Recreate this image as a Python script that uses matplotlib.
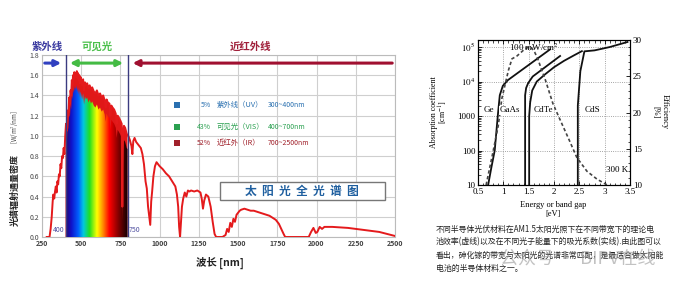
import numpy as np
import matplotlib
matplotlib.use("Agg")
import matplotlib.pyplot as plt
from matplotlib.colors import LinearSegmentedColormap
from matplotlib.patches import Polygon, Rectangle
from matplotlib.ticker import FixedLocator, FixedFormatter, MultipleLocator, LogLocator, NullFormatter

plt.rcParams['font.family'] = ['Noto Sans CJK SC', 'DejaVu Sans']
plt.rcParams['mathtext.fontset'] = 'stix'

# ---- left chart: solar spectrum ----
spec_nm = [280, 298, 305, 312, 318, 322, 328, 333, 338, 343,
           348, 353, 358, 363, 368, 373, 378, 383, 388, 393,
           398, 403, 408, 413, 418, 423, 428, 432, 436, 440,
           444, 448, 452, 456, 460, 464, 468, 472, 476, 480,
           484, 488, 492, 496, 500, 506, 512, 518, 524, 530,
           538, 546, 554, 562, 570, 580, 590, 600, 610, 620,
           630, 640, 650, 656, 662, 670, 680, 686, 692, 700,
           710, 720, 726, 732, 740, 750, 758, 762, 766, 772,
           780, 790, 800, 810, 820, 826, 832, 840, 850, 860,
           870, 880, 890, 900, 910, 918, 926, 934, 940, 946,
           952, 960, 970, 980, 990, 1000, 1020, 1040, 1060, 1080,
           1100, 1110, 1118, 1124, 1130, 1136, 1142, 1150, 1160, 1170,
           1180, 1190, 1200, 1220, 1240, 1260, 1268, 1276, 1284, 1295,
           1310, 1325, 1338, 1350, 1360, 1380, 1400, 1420, 1430, 1440,
           1450, 1460, 1470, 1480, 1490, 1500, 1510, 1520, 1540, 1560,
           1580, 1600, 1620, 1640, 1660, 1680, 1700, 1720, 1740, 1760,
           1775, 1790, 1800, 1820, 1950, 1965, 1980, 1995, 2005, 2020,
           2035, 2050, 2080, 2100, 2150, 2200, 2250, 2300, 2350, 2400,
           2450, 2500]
spec_val = [0.0, 0.0, 0.08, 0.2, 0.35, 0.42, 0.38, 0.45, 0.5, 0.44,
            0.55, 0.52, 0.62, 0.6, 0.72, 0.68, 0.8, 0.78, 0.88, 0.82,
            1.0, 1.12, 1.05, 1.25, 1.2, 1.38, 1.32, 1.45, 1.4, 1.55,
            1.5, 1.6, 1.56, 1.63, 1.58, 1.62, 1.6, 1.64, 1.57, 1.62,
            1.55, 1.6, 1.52, 1.58, 1.55, 1.5, 1.56, 1.45, 1.53, 1.5,
            1.52, 1.47, 1.5, 1.46, 1.48, 1.44, 1.42, 1.45, 1.4, 1.42,
            1.38, 1.4, 1.35, 1.28, 1.36, 1.33, 1.32, 1.2, 1.3, 1.28,
            1.26, 1.22, 1.12, 1.2, 1.18, 1.15, 1.12, 0.3, 1.0, 1.1,
            1.08, 1.02, 1.0, 0.96, 0.9, 0.82, 0.95, 0.98, 0.94, 0.92,
            0.9, 0.88, 0.82, 0.72, 0.55, 0.48, 0.3, 0.2, 0.12, 0.35,
            0.45, 0.6, 0.7, 0.74, 0.72, 0.7, 0.67, 0.63, 0.6, 0.55,
            0.5, 0.42, 0.3, 0.1, 0.0, 0.15, 0.3, 0.38, 0.44, 0.4,
            0.46, 0.45, 0.46, 0.45, 0.46, 0.44, 0.38, 0.28, 0.36, 0.42,
            0.4, 0.3, 0.15, 0.03, 0.0, 0.0, 0.0, 0.02, 0.08, 0.05,
            0.14, 0.1, 0.18, 0.15, 0.22, 0.24, 0.26, 0.27, 0.28, 0.27,
            0.26, 0.26, 0.25, 0.24, 0.23, 0.22, 0.21, 0.19, 0.17, 0.13,
            0.08, 0.03, 0.0, 0.0, 0.0, 0.05, 0.09, 0.04, 0.05, 0.1,
            0.08, 0.1, 0.1, 0.1, 0.095, 0.09, 0.08, 0.07, 0.06, 0.05,
            0.03, 0.01]
visible_nm = [400, 795]
band_names = ['紫外线', '可见光', '近红外线']
band_colors = ['#3a3aa0', '#4cc04c', '#a0203a']
share_pct = ['5%', '43%', '52%']
share_name = ['紫外线（UV）', '可见光（VIS）', '近红外（IR）']
share_range = ['300~400nm', '400~700nm', '700~2500nm']
share_colors = ['#2a70b0', '#2aa050', '#a0202a']

# ---- right chart: absorption / efficiency ----
ge_E = [0.70, 0.76, 0.83, 0.89, 0.93, 0.99, 1.09, 1.92]
ge_a = [10, 30, 100, 1000, 4000, 7500, 1.1e4, 8.5e4]
gaas_E = [1.43, 1.43, 1.45, 1.49, 1.58, 2.12]
gaas_a = [10, 4000, 6500, 9000, 1.4e4, 5.5e4]
cdte_E = [1.51, 1.51, 1.53, 1.57, 1.66, 1.82, 2.0, 2.2, 2.4, 2.55]
cdte_a = [10, 1000, 2500, 5500, 1e4, 1.6e4, 2.6e4, 4e4, 5.8e4, 7.6e4]
cds_E = [2.47, 2.47, 2.52, 2.6, 2.8, 3.1, 3.45]
cds_a = [10, 2000, 2e4, 7.5e4, 8e4, 1e5, 1.4e5]
eff_E = [0.66, 0.72, 0.8, 0.9, 0.97, 1.03, 1.1, 1.17, 1.27, 1.35, 1.43, 1.5,
         1.56, 1.62, 1.68, 1.75, 1.82, 1.98, 2.12, 2.3, 2.45, 2.65, 2.85, 3.05]
eff_v = [10, 12, 14.7, 18.2, 21.9, 23.7, 25.8, 27.4, 27.8, 28.3, 28.8, 29,
         28.9, 28.3, 27.4, 26, 24.7, 21.2, 19, 16.2, 13.8, 11.9, 10.8, 10]
caption = ['不同半导体光伏材料在AM1.5太阳光照下在不同带宽下的理论电',
           '池效率(虚线)以及在不同光子能量下的吸光系数(实线).由此图可以',
           '看出，砷化镓的带宽与太阳光的光谱非常匹配，是最适合做太阳能',
           '电池的半导体材料之一。']

W, H = 691, 289
def fx(px): return px / W
def fy(py): return 1 - py / H

fig = plt.figure(figsize=(6.91, 2.89), dpi=100)

ax1 = fig.add_axes([fx(42), fy(237), (395 - 42) / W, (237 - 55) / H])
nm = np.array(spec_nm, float)
val = np.array(spec_val, float)

# visible band: red under-layer + rainbow
lo, hi = visible_nm
mask = (nm > lo) & (nm < hi)
xs = np.concatenate([[lo], nm[mask], [hi]])
ys = np.interp(xs, nm, val)
red_poly = Polygon(np.column_stack([np.r_[xs, hi, lo], np.r_[ys, 0, 0]]),
                   closed=True, fc='#e01818', ec='none', zorder=2)
ax1.add_patch(red_poly)
rb = LinearSegmentedColormap.from_list('rb', [
    (0, '#2a0a70'), (0.08, '#1010c8'), (0.2, '#0060ff'), (0.28, '#00c8e0'),
    (0.38, '#20e020'), (0.5, '#ffff00'), (0.6, '#ff8800'), (0.7, '#ff0000'),
    (0.85, '#800000'), (1, '#100000')])
im = ax1.imshow(np.linspace(0, 1, 256).reshape(1, -1), extent=[lo, hi, 0, 1.8],
                aspect='auto', cmap=rb, zorder=3)
rb_top = np.clip(ys - 0.14, 0, None)
clip = Polygon(np.column_stack([np.r_[xs, hi, lo], np.r_[rb_top, 0, 0]]),
               closed=True, transform=ax1.transData)
im.set_clip_path(clip)

ax1.plot(nm, val, color='#e41a1c', lw=1.4, zorder=4)
for v in visible_nm:
    ax1.axvline(v, color='#3b3b80', lw=1.0, zorder=5)

ax1.set_xlim(250, 2500)
ax1.set_ylim(0, 1.8)
ax1.set_xticks(np.arange(250, 2501, 250))
ax1.set_yticks(np.arange(0, 1.81, 0.2))
ax1.set_yticklabels([f'{t:.1f}' for t in np.arange(0, 1.81, 0.2)])
ax1.tick_params(length=0, labelsize=5, colors='#444', pad=2)
for lab in ax1.get_xticklabels():
    lab.set_fontweight('bold')
ax1.grid(color='#cfcfcf', lw=0.8)
ax1.set_axisbelow(True)
for s in ax1.spines.values():
    s.set_color('#bbbbbb')
    s.set_linewidth(0.8)

ax1.text(lo - 8, 0.03, '400', fontsize=5, color='#5050a0', ha='right', va='bottom', zorder=6)
ax1.text(hi + 8, 0.03, '750', fontsize=5, color='#5050a0', ha='left', va='bottom', zorder=6)

# region arrows
ay = 1.72
ax1.annotate('', xy=(390, ay), xytext=(250, ay),
             arrowprops=dict(arrowstyle='-|>', color='#3040c0', lw=2.2, mutation_scale=9))
ax1.annotate('', xy=(785, ay), xytext=(410, ay),
             arrowprops=dict(arrowstyle='<|-|>', color='#44bb44', lw=2.2, mutation_scale=9))
ax1.annotate('', xy=(810, ay), xytext=(2500, ay),
             arrowprops=dict(arrowstyle='-|>', color='#a01030', lw=2.2, mutation_scale=9))
for name, c, px in zip(band_names, band_colors, [47, 97, 251]):
    fig.text(fx(px), fy(47), name, color=c, fontsize=7.5, fontweight='bold',
             ha='center', va='center')

# percentage legend
for i, py in enumerate([105, 127, 143]):
    fig.add_artist(Rectangle((fx(174), fy(py + 3)), 6 / W, 6 / H,
                             transform=fig.transFigure, fc=share_colors[i], ec='none'))
    fig.text(fx(211), fy(py), share_pct[i], color=share_colors[i], fontsize=5,
             ha='right', va='center')
    fig.text(fx(217), fy(py), share_name[i], color=share_colors[i], fontsize=5.3,
             ha='left', va='center')
    fig.text(fx(268), fy(py), share_range[i], color=share_colors[i], fontsize=5,
             ha='left', va='center')

fig.add_artist(Rectangle((fx(220), fy(200)), (385 - 220) / W, 18 / H,
                         transform=fig.transFigure, fc='white', ec='#777777', lw=1.0))
fig.text(fx(302), fy(191), '太  阳  光  全  光  谱  图', color='#1f5f9f', fontsize=8.5,
         fontweight='bold', ha='center', va='center')

fig.text(fx(220), fy(263), '波长 [nm]', fontsize=7.5, fontweight='bold', color='#222',
         ha='center', va='center')
fig.text(fx(15), fy(190), '光谱辐射通量密度', fontsize=6.5, fontweight='bold', color='#222',
         rotation=90, ha='center', va='center')
fig.text(fx(14), fy(127), '[W/m$^2$/nm]', fontsize=4.5, color='#444',
         rotation=90, ha='center', va='center')

# ---- right chart ----
serif = 'Liberation Serif'
ax2 = fig.add_axes([fx(478), fy(185), (630 - 478) / W, (185 - 40) / H])
ax2.set_yscale('log')
for E, a in [(ge_E, ge_a), (gaas_E, gaas_a), (cdte_E, cdte_a), (cds_E, cds_a)]:
    ax2.plot(E, a, color='#111', lw=1.3)
ax2.set_xlim(0.5, 3.5)
ax2.set_ylim(10, 1.6e5)
ax2.yaxis.set_major_locator(FixedLocator([10, 100, 1000, 1e4, 1e5]))
ax2.yaxis.set_major_formatter(FixedFormatter(['10', '100', '1000', '$10^4$', '$10^5$']))
ax2.yaxis.set_minor_locator(LogLocator(base=10, subs=np.arange(2, 10)))
ax2.yaxis.set_minor_formatter(NullFormatter())
ax2.xaxis.set_major_locator(MultipleLocator(0.5))
ax2.xaxis.set_minor_locator(MultipleLocator(0.1))
ax2.xaxis.set_major_formatter(plt.FuncFormatter(lambda v, p: f'{v:g}'))
ax2.tick_params(which='both', direction='in', top=True, labelsize=6.5, pad=2)
ax2.tick_params(which='major', length=3, width=0.6)
ax2.tick_params(which='minor', length=1.8, width=0.5)
for lab in ax2.get_xticklabels() + ax2.get_yticklabels():
    lab.set_family(serif)
ax2.grid(True, which='major', ls=':', color='#888', lw=0.6)
for s in ax2.spines.values():
    s.set_linewidth(0.8)

ax2e = ax2.twinx()
ax2e.plot(eff_E, eff_v, color='#444', lw=1.2, ls=(0, (2, 1.5)))
ax2e.set_ylim(10, 30)
ax2e.yaxis.set_major_locator(MultipleLocator(5))
ax2e.yaxis.set_minor_locator(MultipleLocator(1))
ax2e.tick_params(which='both', direction='in', labelsize=6.5, pad=2)
ax2e.tick_params(which='major', length=3, width=0.6)
ax2e.tick_params(which='minor', length=1.8, width=0.5)
for lab in ax2e.get_yticklabels():
    lab.set_family(serif)

ax2e.text(1.6, 29.0, '100 mW/cm$^2$', family=serif, fontsize=6.5, ha='center', va='center')
for t, E in [('Ge', 0.62), ('GaAs', 0.92), ('CdTe', 1.6), ('CdS', 2.6)]:
    ax2e.text(E, 20.3, t, family=serif, fontsize=6.5, ha='left', va='center',
              bbox=dict(fc='white', ec='none', pad=0.3))
ax2e.text(3.03, 12, '300 K', family=serif, fontsize=6.5, ha='left', va='center')

fig.text(fx(434), fy(112), 'Absorption coefficient', family=serif, fontsize=5.8,
         rotation=90, ha='center', va='center')
fig.text(fx(443), fy(112), '[cm$^{-1}$]', family=serif, fontsize=5.8,
         rotation=90, ha='center', va='center')
fig.text(fx(665), fy(112), 'Efficiency', family=serif, fontsize=6,
         rotation=270, ha='center', va='center')
fig.text(fx(655), fy(112), '[%]', family=serif, fontsize=6,
         rotation=270, ha='center', va='center')
fig.text(fx(553), fy(205), 'Energy or band gap', family=serif, fontsize=6,
         ha='center', va='center')
fig.text(fx(553), fy(214), '[eV]', family=serif, fontsize=6,
         ha='center', va='center')

for i, line in enumerate(caption):
    fig.text(fx(436), fy(229 + 13 * i), line, fontsize=5.7, color='#222',
             ha='left', va='center')
fig.text(fx(500), fy(259), '公众号 · BIPV在线', fontsize=13, color='#9a9a9a',
         alpha=0.6, ha='left', va='center')

fig.savefig('out.png', dpi=100)
